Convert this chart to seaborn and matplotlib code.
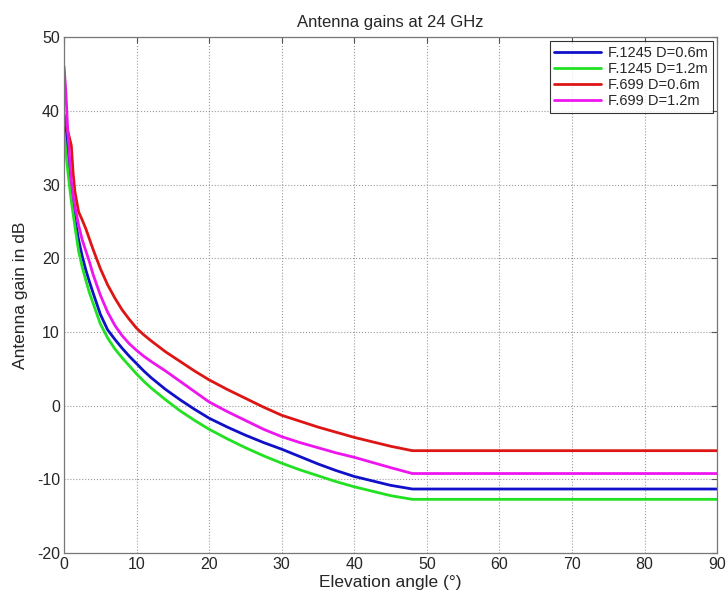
import numpy as np
import pandas as pd
import matplotlib
matplotlib.use("Agg")
import matplotlib.pyplot as plt
import seaborn as sns

# Elevation angles (degrees) at which gains are tabulated
angle = [0, 0.25, 0.5, 0.75, 1, 1.25, 1.5, 2, 2.5, 3, 3.5, 4, 5, 6, 7, 8, 9, 10,
         11, 12, 14, 16, 18, 20, 22.5, 25, 27.5, 30, 32.5, 35, 37.5, 40, 42.5,
         45, 48, 90]

# Antenna gain (dB) for each pattern / dish diameter
f1245_06 = [38.3, 36.5, 34.0, 31.0, 29.0, 27.0, 25.3, 22.5, 20.3, 18.4, 16.8, 15.3,
            12.4, 10.3, 9.0, 7.8, 6.7, 5.7, 4.7, 3.8, 2.2, 0.8, -0.5, -1.7, -2.9,
            -4.0, -5.0, -5.9, -6.9, -7.9, -8.8, -9.6, -10.2, -10.8, -11.3, -11.3]
f1245_12 = [37.0, 34.5, 32.0, 29.8, 27.8, 26.0, 24.3, 21.0, 18.8, 17.0, 15.3, 13.9,
            11.1, 9.2, 7.7, 6.5, 5.4, 4.3, 3.3, 2.4, 0.8, -0.7, -2.0, -3.2, -4.5,
            -5.7, -6.8, -7.8, -8.7, -9.5, -10.3, -11.0, -11.6, -12.2, -12.7, -12.7]
f699_06 = [39.5, 38.5, 37.3, 36.3, 35.3, 31.5, 29.0, 26.3, 25.2, 24.0, 22.6, 21.2,
           18.6, 16.4, 14.6, 13.0, 11.7, 10.5, 9.6, 8.8, 7.3, 6.0, 4.7, 3.5, 2.2,
           1.0, -0.2, -1.3, -2.1, -2.9, -3.6, -4.3, -4.9, -5.5, -6.1, -6.1]
f699_12 = [46.0, 42.5, 37.5, 33.8, 30.5, 28.6, 27.0, 24.5, 22.5, 21.0, 19.5, 17.8,
           15.0, 12.7, 10.9, 9.5, 8.4, 7.5, 6.7, 6.0, 4.7, 3.3, 1.9, 0.5, -0.8,
           -2.0, -3.2, -4.2, -5.0, -5.7, -6.4, -7.0, -7.7, -8.4, -9.2, -9.2]

series_names = ["F.1245 D=0.6m", "F.1245 D=1.2m", "F.699 D=0.6m", "F.699 D=1.2m"]
series_values = [f1245_06, f1245_12, f699_06, f699_12]
colors = ["#1010c8", "#22e022", "#dd1515", "#ee15ee"]

x_ticks = [0, 10, 20, 30, 40, 50, 60, 70, 80, 90]
y_ticks = [-20, -10, 0, 10, 20, 30, 40, 50]

df = pd.concat(
    [pd.DataFrame({"angle": angle, "gain": vals, "pattern": name})
     for name, vals in zip(series_names, series_values)],
    ignore_index=True,
)

sns.set_style("white")
plt.rcParams["font.family"] = ["Liberation Sans", "DejaVu Sans"]
plt.rcParams["axes.unicode_minus"] = False

fig = plt.figure(figsize=(7.28, 5.98), dpi=100)
ax = fig.add_axes([0.088, 0.075, 0.897, 0.863])

sns.lineplot(data=df, x="angle", y="gain", hue="pattern",
             hue_order=series_names, palette=dict(zip(series_names, colors)),
             linewidth=2.0, ax=ax, sort=False, estimator=None)

ax.set_xlim(0, 90)
ax.set_ylim(-20, 50)
ax.set_xticks(x_ticks)
ax.set_yticks(y_ticks)
ax.tick_params(direction="in", length=4, labelsize=11.5, top=True, right=True,
               color="#555555", width=0.8, pad=3)
ax.grid(True, linestyle=":", color="#9a9a9a", linewidth=0.8)
for s in ax.spines.values():
    s.set_color("#777777")
    s.set_linewidth(0.9)

ax.set_xlabel("Elevation angle (°)", fontsize=12.5, labelpad=2)
ax.set_ylabel("Antenna gain in dB", fontsize=12.5, labelpad=6)
ax.set_title("Antenna gains at 24 GHz", fontsize=12, pad=7)

leg = ax.legend(loc="upper right", fontsize=10.5, frameon=True, fancybox=False,
                edgecolor="black", handlelength=3.2, borderpad=0.3,
                labelspacing=0.15, borderaxespad=0.3, handletextpad=0.5)
leg.get_frame().set_linewidth(0.8)
for line in leg.get_lines():
    line.set_linewidth(2.0)

fig.savefig("out.png", dpi=100)
